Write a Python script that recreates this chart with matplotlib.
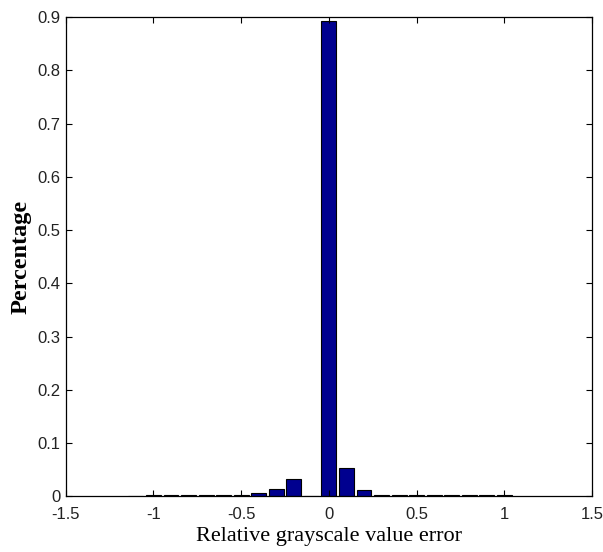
import numpy as np
import matplotlib
matplotlib.use("Agg")
import matplotlib.pyplot as plt

# bin centres of the relative error histogram
error_bins = [-1.1, -1.0, -0.9, -0.8, -0.7, -0.6, -0.5, -0.4, -0.3, -0.2, -0.1,
              0.0, 0.1, 0.2, 0.3, 0.4, 0.5, 0.6, 0.7, 0.8, 0.9, 1.0]
# fraction of pixels in each bin
percentage = [0.001, 0.002, 0.002, 0.002, 0.002, 0.002, 0.002, 0.006, 0.013, 0.032, 0.0,
              0.893, 0.053, 0.011, 0.002, 0.002, 0.002, 0.002, 0.002, 0.002, 0.002, 0.002]

x_ticks = [-1.5, -1, -0.5, 0, 0.5, 1, 1.5]
x_tick_labels = ["-1.5", "-1", "-0.5", "0", "0.5", "1", "1.5"]
y_ticks = [0, 0.1, 0.2, 0.3, 0.4, 0.5, 0.6, 0.7, 0.8, 0.9]
y_tick_labels = ["0", "0.1", "0.2", "0.3", "0.4", "0.5", "0.6", "0.7", "0.8", "0.9"]

fig = plt.figure(figsize=(6.03, 5.52), dpi=100)
ax = fig.add_axes([0.109, 0.101, 0.873, 0.868])

ax.bar(error_bins, percentage, width=0.085, color="#00008F",
       edgecolor="black", linewidth=0.8)

ax.set_xlim(-1.5, 1.5)
ax.set_ylim(0, 0.9)
ax.set_xticks(x_ticks)
ax.set_xticklabels(x_tick_labels, fontfamily="Liberation Sans", fontsize=12, color="#222222")
ax.set_yticks(y_ticks)
ax.set_yticklabels(y_tick_labels, fontfamily="Liberation Sans", fontsize=12, color="#222222")
ax.tick_params(direction="in", length=4, width=0.8, top=True, right=True)
ax.tick_params(axis="x", pad=8)
ax.tick_params(axis="y", pad=4)
for spine in ax.spines.values():
    spine.set_linewidth(0.9)

ax.set_xlabel("Relative grayscale value error", fontfamily="Liberation Serif",
              fontsize=16, labelpad=3)
ax.set_ylabel("Percentage", fontfamily="Liberation Serif", fontsize=17.5,
              fontweight="bold", labelpad=4)

fig.savefig("out.png", dpi=100)
